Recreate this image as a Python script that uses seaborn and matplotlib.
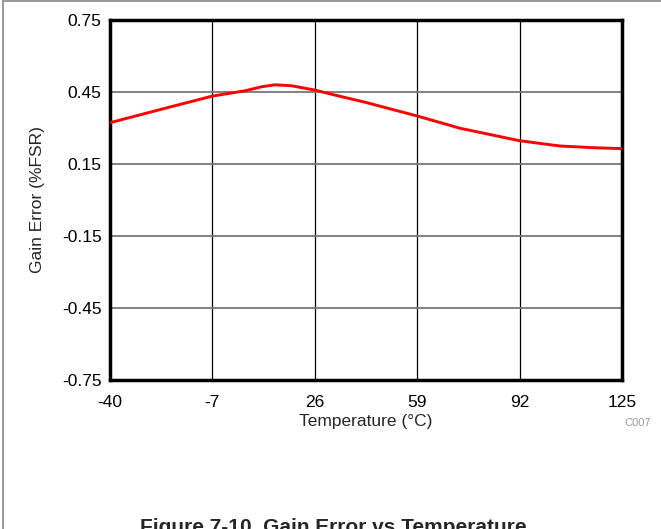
import matplotlib
matplotlib.use("Agg")
import matplotlib.pyplot as plt
from matplotlib.lines import Line2D
import seaborn as sns
import pandas as pd

# values
temperature = [-40, -23.5, -7, 3.5, 8.9, 13.2, 18.5, 26, 33.5, 42, 59, 72.8, 92, 105, 115.7, 125]
gain_error = [0.322, 0.378, 0.433, 0.455, 0.472, 0.480, 0.476, 0.458, 0.434, 0.408, 0.350, 0.299,
              0.247, 0.225, 0.218, 0.214]

x_ticks = [-40, -7, 26, 59, 92, 125]
y_ticks = [-0.75, -0.45, -0.15, 0.15, 0.45, 0.75]
y_tick_labels = ['-0.75', '-0.45', '-0.15', '0.15', '0.45', '0.75']

sns.set_style('white')
plt.rcParams['font.family'] = ['Liberation Sans', 'DejaVu Sans']
plt.rcParams['axes.unicode_minus'] = False

df = pd.DataFrame({'temp': temperature, 'gain': gain_error})

fig = plt.figure(figsize=(6.61, 5.29), dpi=100)
ax = fig.add_axes([110 / 661, 1 - 380 / 529, 512 / 661, 360 / 529])

# grid: vertical black thin, horizontal gray
for t in x_ticks[1:-1]:
    ax.axvline(t, color='black', lw=0.9, zorder=1)
for v in y_ticks[1:-1]:
    ax.axhline(v, color='#777777', lw=1.3, zorder=1)

sns.lineplot(data=df, x='temp', y='gain', color='#ff0000', lw=2.1, ax=ax, zorder=3)

ax.set_xlim(-40, 125)
ax.set_ylim(-0.75, 0.75)
ax.set_xticks(x_ticks)
ax.set_yticks(y_ticks)
ax.set_yticklabels(y_tick_labels)
ax.tick_params(axis='both', length=0, labelsize=12.5, colors='black')
ax.tick_params(axis='x', pad=10.5)
ax.tick_params(axis='y', pad=6)
for s in ax.spines.values():
    s.set_linewidth(2.5)
    s.set_color('black')
    s.set_visible(True)

ax.set_xlabel('Temperature (°C)', fontsize=12.5, labelpad=3.5)
ax.set_ylabel('Gain Error (%FSR)', fontsize=12.5, labelpad=12)

fig.text(638 / 661, 1 - 423 / 529, 'C007', fontsize=8, color='#999999', ha='center', va='center')
fig.text(333 / 661, 1 - 518 / 529, 'Figure 7-10. Gain Error vs Temperature',
         fontsize=15, fontweight='bold', ha='center', va='top')

# page border lines (top and left)
fig.add_artist(Line2D([2.5 / 661, 2.5 / 661], [0, 1 - 1 / 529], color='#888888', lw=1.2,
                      transform=fig.transFigure))
fig.add_artist(Line2D([2.5 / 661, 1], [1 - 1 / 529, 1 - 1 / 529], color='#888888', lw=1.2,
                      transform=fig.transFigure))

fig.savefig('out.png', dpi=100)
